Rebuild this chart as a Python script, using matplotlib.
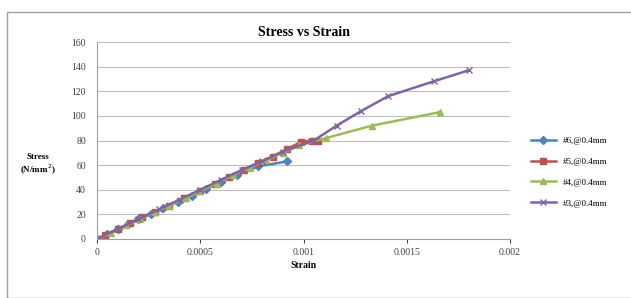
import matplotlib
matplotlib.use("Agg")
import matplotlib.pyplot as plt
from matplotlib.patches import Rectangle

# data (strain, stress in N/mm^2)
strain6 = [0, 0.00005, 0.0001, 0.00015, 0.0002, 0.00026, 0.00032, 0.00039, 0.00046, 0.00053, 0.0006, 0.00068, 0.00078, 0.00092]
stress6 = [0, 4, 8, 12, 16, 20, 25, 30, 35, 41, 46, 52, 59, 63]

strain5 = [0, 0.00004, 0.0001, 0.00016, 0.00022, 0.00028, 0.00035, 0.00042, 0.0005, 0.00057, 0.00064, 0.00071, 0.00078, 0.00085, 0.00092, 0.00099, 0.00104, 0.00107]
stress5 = [0, 3, 8, 13, 18, 22, 27, 33, 39, 45, 50, 56, 62, 67, 73, 79, 80, 80]

strain4 = [0, 0.00007, 0.00014, 0.00021, 0.00028, 0.00035, 0.00043, 0.0005, 0.00058, 0.00066, 0.00074, 0.00082, 0.0009, 0.00098, 0.00111, 0.00133, 0.00166]
stress4 = [0, 5, 11, 16, 22, 27, 33, 39, 45, 52, 58, 64, 70, 76, 82, 92, 103]

strain3 = [0, 0.0001, 0.0002, 0.0003, 0.0004, 0.0005, 0.0006, 0.0007, 0.0008, 0.0009, 0.00105, 0.00116, 0.00128, 0.00141, 0.00163, 0.0018]
stress3 = [0, 8, 16, 24, 32, 40, 48, 56, 63, 71, 80, 92, 104, 116, 128, 137]

labels = ["#6,@0.4mm", "#5,@0.4mm", "#4,@0.4mm", "#3,@0.4mm"]
colors = ["#4F81BD", "#C0504D", "#9BBB59", "#8064A2"]
markers = ["D", "s", "^", "x"]

plt.rcParams["font.family"] = ["Liberation Serif", "DejaVu Serif"]

fig = plt.figure(figsize=(6.31, 2.98), dpi=100)
fig.patches.append(Rectangle((7 / 631, 0), 1, (298 - 12) / 298, transform=fig.transFigure,
                             fill=False, edgecolor="#A0A0A0", linewidth=1))
ax = fig.add_axes([97 / 631, 59 / 298, 413 / 631, 197 / 298])

series = [(strain6, stress6), (strain5, stress5), (strain4, stress4), (strain3, stress3)]
for (x, y), lab, c, m in zip(series, labels, colors, markers):
    ax.plot(x, y, color=c, marker=m, markersize=4.5, linewidth=1.8, label=lab)

ax.set_xlim(0, 0.002)
ax.set_ylim(0, 160)
ax.set_xticks([0, 0.0005, 0.001, 0.0015, 0.002])
ax.set_xticklabels(["0", "0.0005", "0.001", "0.0015", "0.002"])
ax.set_yticks(range(0, 161, 20))
ax.tick_params(labelsize=7, colors="#404040", length=3)
ax.tick_params(axis="y", length=0, pad=8)
ax.yaxis.grid(True, color="#BFBFBF", linewidth=0.8)
ax.set_axisbelow(True)
for side in ["top", "right"]:
    ax.spines[side].set_visible(False)
ax.spines["left"].set_color("#A0A0A0")
ax.spines["bottom"].set_color("#A0A0A0")

ax.set_title("Stress vs Strain", fontsize=10, fontweight="bold", pad=4)
ax.set_xlabel("Strain", fontsize=7, fontweight="bold", labelpad=3)
fig.text(38 / 631, 1 - 165 / 298, "Stress\n(N/mm$^2$)", fontsize=6.5, fontweight="bold",
         ha="center", va="center")

ax.legend(loc="center left", bbox_to_anchor=(1.03, 0.34), frameon=False, fontsize=6.5,
          handlelength=2.8, labelspacing=1.4)

fig.savefig("out.png", dpi=100)
